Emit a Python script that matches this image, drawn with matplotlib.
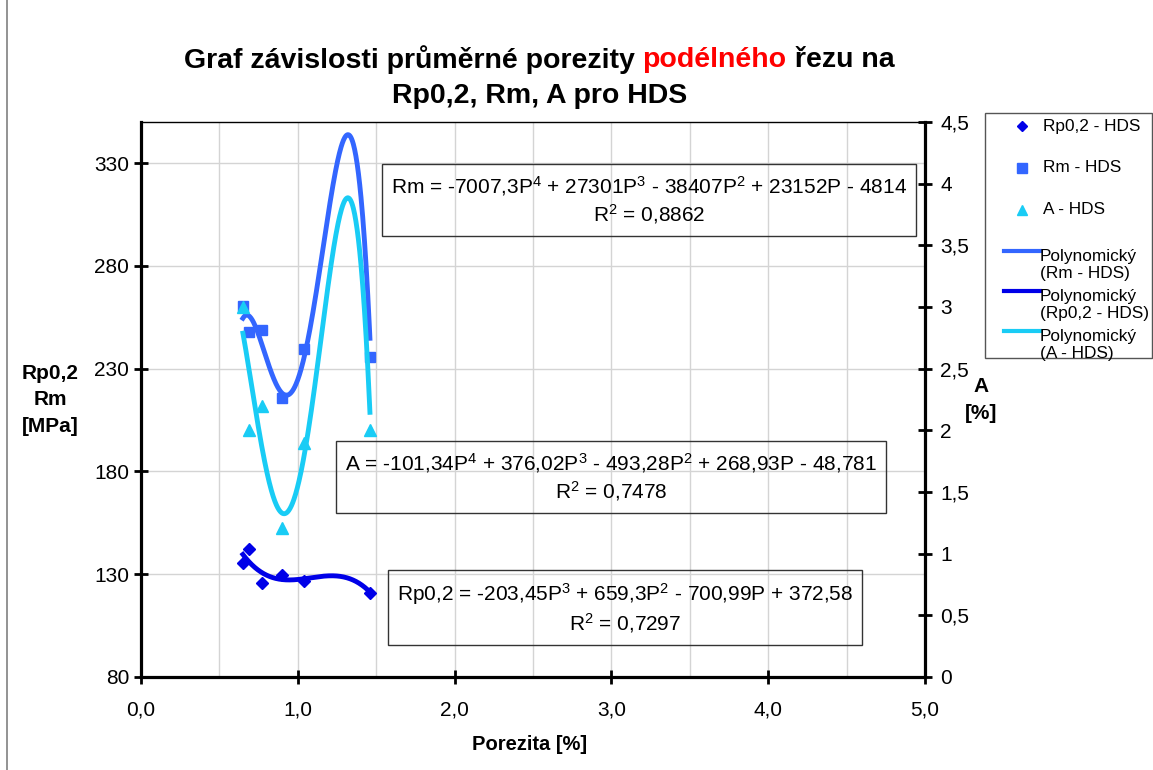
import numpy as np
import matplotlib.pyplot as plt
from matplotlib.ticker import MultipleLocator, FuncFormatter
from matplotlib.lines import Line2D
from matplotlib.patches import Rectangle

plt.rcParams['font.family'] = ['Liberation Sans', 'DejaVu Sans']
plt.rcParams['mathtext.fontset'] = 'custom'
plt.rcParams['mathtext.rm'] = 'Liberation Sans'
plt.rcParams['mathtext.it'] = 'Liberation Sans:italic'
plt.rcParams['mathtext.bf'] = 'Liberation Sans:bold'

W, H = 1153, 770

# namerene hodnoty
porezita = [0.65, 0.69, 0.77, 0.90, 1.04, 1.46]
rp02 = [135.7, 142.5, 125.9, 129.8, 126.9, 121.0]
rm = [260.7, 248.0, 249.0, 215.7, 239.7, 235.8]
a_hds = [3.0, 2.0, 2.2, 1.21, 1.9, 2.0]

# koeficienty spojnic trendu (od nejvyssi mocniny)
rm_coef = [-7007.3, 27301, -38407, 23152, -4814]
a_coef = [-101.34, 376.02, -493.28, 268.93, -48.781]
rp_coef = [-203.45, 659.3, -700.99, 372.58]

rm_eq = r'Rm = -7007,3P$^{4}$ + 27301P$^{3}$ - 38407P$^{2}$ + 23152P - 4814' + '\n' + r'R$^{2}$ = 0,8862'
a_eq = r'A = -101,34P$^{4}$ + 376,02P$^{3}$ - 493,28P$^{2}$ + 268,93P - 48,781' + '\n' + r'R$^{2}$ = 0,7478'
rp_eq = r'Rp0,2 = -203,45P$^{3}$ + 659,3P$^{2}$ - 700,99P + 372,58' + '\n' + r'R$^{2}$ = 0,7297'

c_rp = '#0000e8'
c_rm = '#3366ff'
c_a = '#19ccf5'


def fx(px):
    return px / W


def fy(py):
    return 1 - py / H


fig = plt.figure(figsize=(11.53, 7.70), dpi=100)
fig.add_artist(Line2D([fx(7), fx(7)], [0, 1], transform=fig.transFigure, color='#808080', lw=1.2))

ax = fig.add_axes([fx(141), fy(677), 784 / W, 555 / H])
ax2 = ax.twinx()

ax.set_xlim(0, 5)
ax.set_ylim(80, 350)
ax2.set_ylim(0, 4.5)
ax.xaxis.set_major_locator(MultipleLocator(1.0))
ax.xaxis.set_minor_locator(MultipleLocator(0.5))
ax.set_yticks([80, 130, 180, 230, 280, 330])
ax2.yaxis.set_major_locator(MultipleLocator(0.5))

ax.xaxis.set_major_formatter(FuncFormatter(lambda v, p: f'{v:.1f}'.replace('.', ',')))
ax2.yaxis.set_major_formatter(FuncFormatter(lambda v, p: f'{v:g}'.replace('.', ',')))

ax.grid(True, which='both', axis='x', color='#d4d4d4', lw=1)
ax.grid(True, which='major', axis='y', color='#d4d4d4', lw=1)
ax.set_axisbelow(True)

for s in ['left', 'bottom']:
    ax.spines[s].set_linewidth(2.3)
ax.spines['top'].set_linewidth(1.0)
ax.spines['right'].set_visible(False)
ax2.spines['right'].set_linewidth(2.3)
for s in ['left', 'bottom', 'top']:
    ax2.spines[s].set_visible(False)

ax.tick_params(axis='both', which='major', direction='inout', length=10, width=2, labelsize=15)
ax.tick_params(axis='x', which='minor', length=0)
ax.tick_params(axis='x', pad=12)
ax2.tick_params(axis='y', direction='inout', length=10, width=2, labelsize=15, pad=6)

# body
ax.plot(porezita, rp02, ls='none', marker='D', ms=6.5, color=c_rp, zorder=4)
ax.plot(porezita, rm, ls='none', marker='s', ms=7, color=c_rm, zorder=4)
ax2.plot(porezita, a_hds, ls='none', marker='^', ms=8, color=c_a, zorder=4)

# polynomicke spojnice
px = np.linspace(min(porezita), max(porezita), 300)
ax.plot(px, np.polyval(rm_coef, px), color=c_rm, lw=3.5, zorder=3)
ax.plot(px, np.polyval(rp_coef, px), color=c_rp, lw=3.5, zorder=3)
ax2.plot(px, np.polyval(a_coef, px), color=c_a, lw=3.5, zorder=3)

box = dict(boxstyle='square,pad=0.45', fc='none', ec='#333333', lw=1)
for txt, cx, cy in [(rm_eq, 649, 200), (a_eq, 611, 477), (rp_eq, 625, 608)]:
    fig.text(fx(cx), fy(cy), txt, ha='center', va='center', fontsize=15,
             multialignment='center', bbox=box, linespacing=1.25)

# popisky os
fig.text(fx(50), fy(400), 'Rp0,2\nRm\n[MPa]', ha='center', va='center',
         fontsize=15, fontweight='bold', linespacing=1.5)
fig.text(fx(981), fy(400), 'A\n[%]', ha='center', va='center',
         fontsize=15, fontweight='bold', linespacing=1.5)
fig.text(fx(530), fy(744), 'Porezita [%]', ha='center', va='center',
         fontsize=14.5, fontweight='bold')

# nadpis s cervenym slovem
parts = [('Graf závislosti průměrné porezity ', 'black'), ('podélného', 'red'), (' řezu na', 'black')]
renderer = fig.canvas.get_renderer()
texts = [fig.text(0, fy(60), t, color=c, fontsize=20.5, fontweight='bold', va='center')
         for t, c in parts]
widths = [t.get_window_extent(renderer).width for t in texts]
x0 = 539 - sum(widths) / 2
for t, w in zip(texts, widths):
    t.set_x(fx(x0))
    x0 += w
fig.text(fx(540), fy(96), 'Rp0,2, Rm, A pro HDS', ha='center', va='center',
         fontsize=20.5, fontweight='bold')

# legenda
fig.add_artist(Rectangle((fx(985), fy(358)), fx(1152) - fx(985), fy(113) - fy(358),
                         transform=fig.transFigure, fill=False, ec='#555555', lw=1))
leg_marks = [('D', 5.5, c_rp, 'Rp0,2 - HDS', 126),
             ('s', 6.5, c_rm, 'Rm - HDS', 168),
             ('^', 7.5, c_a, 'A - HDS', 210)]
for m, ms, c, lab, y in leg_marks:
    fig.add_artist(Line2D([fx(1022)], [fy(y)], transform=fig.transFigure,
                          ls='none', marker=m, ms=ms, color=c))
    fig.text(fx(1043), fy(y), lab, fontsize=12.4, va='center', ha='left')
leg_lines = [(c_rm, 'Polynomický\n(Rm - HDS)', 251),
             (c_rp, 'Polynomický\n(Rp0,2 - HDS)', 291),
             (c_a, 'Polynomický\n(A - HDS)', 331)]
for c, lab, y in leg_lines:
    fig.add_artist(Line2D([fx(1004), fx(1040)], [fy(y), fy(y)], transform=fig.transFigure,
                          color=c, lw=3))
    fig.text(fx(1040), fy(y - 2), lab, fontsize=12.4, va='top', ha='left', linespacing=1.2)

fig.savefig('out.png', dpi=100)
